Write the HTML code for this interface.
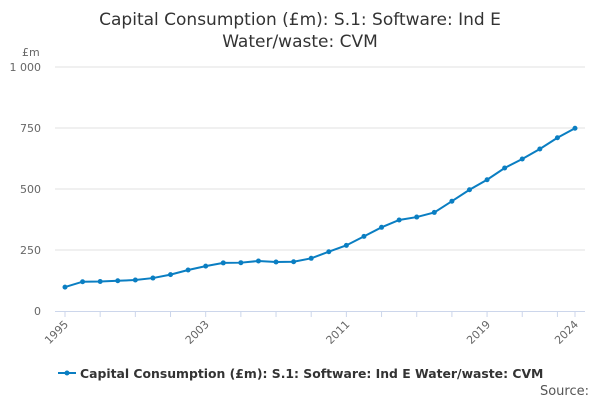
<!DOCTYPE html>
<html><head><meta charset="utf-8"><style>
body{margin:0;background:#fff;font-family:"DejaVu Sans","Liberation Sans",sans-serif}
svg text{font-family:"DejaVu Sans","Liberation Sans",sans-serif}
</style></head><body>
<svg id="chart" width="600" height="400">
<text x="300" y="25" text-anchor="middle" font-size="17" fill="#333">Capital Consumption (£m): S.1: Software: Ind E</text>
<text x="300" y="47" text-anchor="middle" font-size="17" fill="#333">Water/waste: CVM</text>
<text x="22" y="56" font-size="11" fill="#666">£m</text>
<g id="grid"></g><g id="xaxis"></g><g id="series"></g>
<g>
<line x1="58" y1="373" x2="76" y2="373" stroke="#0a7ec2" stroke-width="2"/>
<circle cx="67" cy="373" r="2.5" fill="#0a7ec2"/>
<text x="80" y="378" font-size="12.4" font-weight="bold" fill="#333">Capital Consumption (£m): S.1: Software: Ind E Water/waste: CVM</text>
</g>
<text x="589" y="395" text-anchor="end" font-size="13" fill="#555">Source:</text>
</svg>
<script>
const years=[1995,1996,1997,1998,1999,2000,2001,2002,2003,2004,2005,2006,2007,2008,2009,2010,2011,2012,2013,2014,2015,2016,2017,2018,2019,2020,2021,2022,2023,2024];
const values=[98,120,121,124,127,135,149,168,184,197,198,205,201,202,216,243,269,306,343,373,385,404,450,497,538,586,623,664,710,749];
const yTicks=[0,250,500,750,1000];
const yTickLabels=["0","250","500","750","1 000"];
const xLabelYears=[1995,2003,2011,2019,2024];
const NS="http://www.w3.org/2000/svg";
const x0=65,x1=575,yb=311,yt=67;
const xs=y=>x0+(y-years[0])/(years[years.length-1]-years[0])*(x1-x0);
const ys=v=>yb-v/1000*(yb-yt);
function mk(t,a,p){const e=document.createElementNS(NS,t);for(const k in a)e.setAttribute(k,a[k]);p.appendChild(e);return e;}
const grid=document.getElementById('grid');
yTicks.forEach((t,i)=>{
 if(t>0){const l=mk('line',{x1:55,x2:585,y1:ys(t),y2:ys(t),stroke:'#e0e0e0'},grid);
 
 }
 const tx=mk('text',{x:41,y:ys(t)+4,'text-anchor':'end','font-size':11,fill:'#666'},grid);
 tx.textContent=yTickLabels[i];
 
 
});
const xa=document.getElementById('xaxis');
const ax=mk('line',{x1:55,x2:585,y1:yb+0.5,y2:yb+0.5,stroke:'#ccd6eb'},xa);


years.forEach(y=>{if((y-1995)%2===0||y===2024){mk('line',{x1:xs(y),x2:xs(y),y1:yb,y2:yb+6,stroke:'#ccd6eb'},xa);}});
xLabelYears.forEach(y=>{
 const t=mk('text',{x:xs(y)+4,y:yb+14,'text-anchor':'end','font-size':11,fill:'#666',transform:`rotate(-45 ${xs(y)+4} ${yb+14})`},xa);
 t.textContent=y;
 
 
});
const s=document.getElementById('series');
const p=mk('polyline',{points:years.map((y,i)=>xs(y)+','+ys(values[i])).join(' '),fill:'none',stroke:'#0a7ec2','stroke-width':2},s);


years.forEach((y,i)=>{
 const c=mk('circle',{cx:xs(y),cy:ys(values[i]),r:2.5,fill:'#0a7ec2'},s);
 
 
});
</script>
</body></html>
